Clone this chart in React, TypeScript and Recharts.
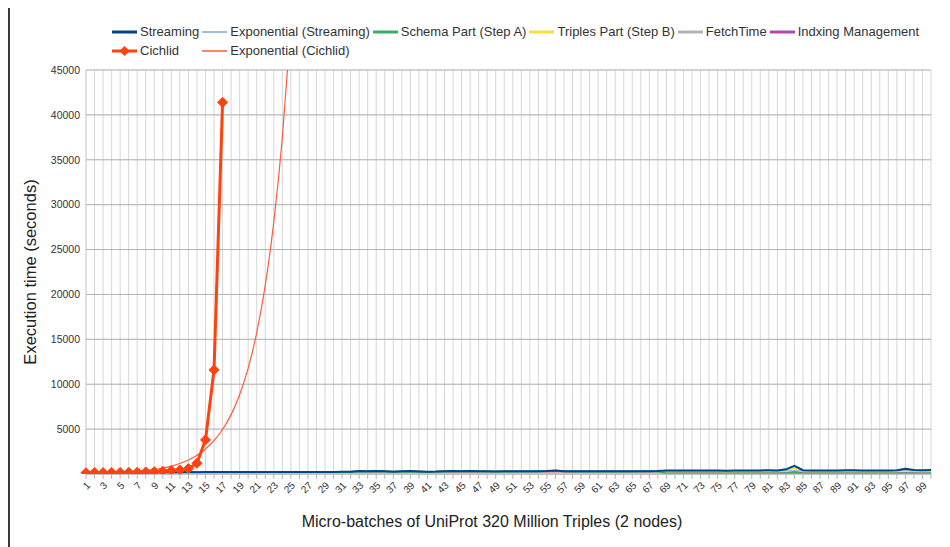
import React from 'react';
import { LineChart, Line, XAxis, YAxis, CartesianGrid } from 'recharts';

// micro-batch numbers 1..100
const categories: string[] = Array.from({ length: 100 }, (_, i) => String(i + 1));

const yTicks = [0, 5000, 10000, 15000, 20000, 25000, 30000, 35000, 40000, 45000];
const yMinorTicks = [0, 2500, 5000, 7500, 10000, 12500, 15000, 17500, 20000, 22500, 25000, 27500, 30000, 32500, 35000, 37500, 40000, 42500, 45000];

const streaming = [
    180, 190, 185, 190, 195, 190, 200, 195, 200, 205,
    200, 205, 210, 205, 210, 215, 210, 215, 220, 215,
    220, 225, 230, 220, 225, 220, 230, 225, 230, 235,
    240, 250, 330, 300, 340, 320, 260, 300, 330, 280,
    250, 270, 320, 330, 310, 330, 320, 300, 290, 300,
    300, 300, 310, 320, 330, 380, 320, 300, 300, 300,
    300, 300, 310, 300, 310, 320, 320, 330, 380, 390,
    380, 380, 390, 380, 380, 370, 380, 380, 390, 400,
    420, 380, 520, 920, 420, 380, 380, 380, 390, 420,
    410, 380, 390, 400, 380, 430, 580, 440, 420, 440,
];

const expStreaming = [
    200, 202, 204, 205, 207, 209, 210, 212, 214, 215,
    217, 219, 220, 222, 224, 226, 227, 229, 231, 233,
    234, 236, 238, 240, 242, 243, 245, 247, 249, 251,
    253, 255, 256, 258, 260, 262, 264, 266, 268, 270,
    272, 274, 276, 278, 280, 282, 284, 286, 288, 290,
    292, 294, 296, 298, 300, 302, 304, 306, 308, 310,
    312, 314, 316, 318, 320, 322, 324, 326, 328, 330,
    332, 334, 336, 338, 340, 342, 344, 346, 348, 350,
    352, 353, 355, 357, 358, 360, 361, 362, 363, 364,
    365, 366, 366, 367, 367, 368, 368, 369, 369, 370,
];

const schemaPart = [
    170, 175, 170, 175, 180, 175, 185, 180, 185, 190,
    185, 190, 195, 190, 195, 200, 195, 200, 205, 200,
    205, 210, 215, 205, 210, 205, 215, 210, 215, 220,
    225, 235, 310, 285, 320, 300, 245, 285, 310, 265,
    235, 255, 300, 310, 295, 310, 300, 285, 275, 280,
    280, 280, 290, 300, 310, 350, 300, 280, 280, 280,
    280, 280, 290, 280, 290, 300, 300, 300, 60, 50,
    45, 45, 45, 45, 45, 45, 45, 45, 45, 50,
    50, 50, 70, 120, 50, 45, 45, 45, 45, 50,
    50, 45, 45, 50, 45, 50, 60, 50, 45, 50,
];

const triplesPart = [
    15, 15, 15, 15, 15, 15, 15, 15, 15, 15,
    15, 15, 15, 15, 15, 15, 15, 15, 15, 15,
    15, 15, 15, 15, 15, 15, 15, 15, 15, 15,
    15, 15, 15, 15, 15, 15, 15, 15, 15, 15,
    15, 15, 15, 15, 15, 15, 15, 15, 15, 15,
    15, 15, 15, 15, 15, 15, 15, 15, 15, 15,
    15, 15, 15, 15, 15, 15, 15, 15, 260, 270,
    265, 265, 270, 265, 265, 260, 265, 265, 270, 280,
    290, 270, 380, 680, 300, 270, 270, 270, 275, 290,
    285, 270, 275, 280, 270, 300, 420, 300, 290, 300,
];

const fetchTime = [
    15, 15, 15, 15, 15, 15, 15, 15, 15, 15,
    15, 15, 15, 15, 15, 15, 15, 15, 15, 15,
    15, 15, 15, 15, 15, 15, 15, 15, 15, 15,
    20, 20, 20, 20, 20, 20, 20, 20, 20, 20,
    20, 20, 20, 20, 20, 20, 20, 20, 20, 20,
    20, 20, 20, 20, 20, 20, 20, 20, 20, 20,
    20, 20, 20, 20, 20, 20, 20, 20, 20, 20,
    20, 20, 20, 20, 20, 20, 20, 20, 20, 20,
    25, 25, 25, 30, 25, 25, 25, 25, 25, 25,
    25, 25, 25, 25, 25, 25, 25, 25, 25, 25,
];

const indexing = [
    55, 55, 55, 55, 55, 55, 55, 55, 55, 55,
    55, 55, 55, 55, 55, 55, 55, 55, 55, 55,
    55, 55, 55, 55, 55, 55, 55, 55, 55, 55,
    60, 60, 60, 60, 60, 60, 60, 60, 60, 60,
    60, 60, 60, 60, 60, 60, 60, 60, 60, 60,
    60, 60, 60, 60, 60, 60, 60, 60, 60, 60,
    65, 65, 65, 65, 65, 65, 65, 65, 70, 70,
    70, 70, 70, 70, 70, 70, 70, 70, 70, 75,
    75, 75, 110, 220, 100, 75, 75, 75, 75, 75,
    75, 75, 75, 75, 75, 80, 90, 80, 75, 80,
];

const cichlid = [
    150, 180, 160, 170, 180, 190, 200, 230, 260, 300,
    380, 450, 600, 1200, 3800, 11600, 41400,
];

const expCichlid = [
    50, 65, 87, 116, 155, 206, 275, 368, 491, 655,
    875, 1168, 1560, 2083, 2780, 3711, 4955, 6615, 8830, 11790,
    15740, 21010, 28050, 37450, 50000,
];

const data = categories.map((c, i) => ({
    x: c,
    streaming: streaming[i],
    expStreaming: expStreaming[i],
    schema: schemaPart[i],
    triples: triplesPart[i],
    fetch: fetchTime[i],
    indexing: indexing[i],
    cichlid: i < cichlid.length ? cichlid[i] : null,
    expCichlid: i < expCichlid.length ? expCichlid[i] : null,
}));

const FONT = '"Liberation Sans", Arial, sans-serif';

const legendItems = [
    { name: 'Streaming', color: '#004586', width: 3 },
    { name: 'Exponential (Streaming)', color: '#7ea6d3', width: 1.5 },
    { name: 'Schema Part (Step A)', color: '#3daa66', width: 3 },
    { name: 'Triples Part (Step B)', color: '#ffdc3c', width: 3 },
    { name: 'FetchTime', color: '#b3b3b3', width: 3 },
    { name: 'Indxing Management', color: '#b545b0', width: 3 },
    { name: 'Cichlid', color: '#ff420e', width: 3, diamond: true },
    { name: 'Exponential (Cichlid)', color: '#ff5c3a', width: 1.5 },
];

const Diamond = (props: any) => {
    const { cx, cy, value } = props;
    if (cx == null || cy == null || value == null) return null;
    const r = 5;
    return (
        <path
            key={`d-${cx}`}
            d={`M${cx},${cy - r}L${cx + r},${cy}L${cx},${cy + r}L${cx - r},${cy}Z`}
            fill="#ff420e"
            stroke="#ff420e"
        />
    );
};

const XTick = (props: any) => {
    const { x, y, index, payload } = props;
    if (index % 2 !== 0) return <g />;
    return (
        <g transform={`translate(${x},${y})`}>
            <text
                x={0}
                y={0}
                dy={7}
                textAnchor="end"
                transform="rotate(-45)"
                fontSize={10}
                fill="#333"
                fontFamily={FONT}
            >
                {payload.value}
            </text>
        </g>
    );
};

export default function App() {
    return (
        <div
            style={{
                position: 'relative',
                width: 942,
                height: 545,
                marginTop: -6,
                borderLeft: '2px solid #3a3a3a',
                borderTop: '2px solid #999',
                fontFamily: FONT,
                overflow: 'hidden',
            }}
        >
            {/* legend */}
            <div
                style={{
                    position: 'absolute',
                    left: 102,
                    top: 20,
                    display: 'grid',
                    gridTemplateColumns: 'repeat(6, auto)',
                    columnGap: 3,
                    rowGap: 4,
                    fontSize: 13,
                    color: '#333',
                    lineHeight: '15px',
                }}
            >
                {legendItems.map(item => (
                    <div key={item.name} style={{ display: 'flex', alignItems: 'center', whiteSpace: 'nowrap' }}>
                        <svg width={25} height={12} style={{ marginRight: 3 }}>
                            <line x1={0} y1={6} x2={25} y2={6} stroke={item.color} strokeWidth={item.width} />
                            {item.diamond && <path d="M12.5,1L17.5,6L12.5,11L7.5,6Z" fill={item.color} />}
                        </svg>
                        <span>{item.name}</span>
                    </div>
                ))}
            </div>

            <LineChart
                width={940}
                height={543}
                data={data}
                margin={{ top: 66, right: 19, bottom: 33, left: 16 }}
                style={{ position: 'absolute', left: 0, top: 0 }}
            >
                <CartesianGrid yAxisId="minor" vertical={false} stroke="#e6e6e6" strokeWidth={1} />
                <CartesianGrid horizontal={false} stroke="#d6d6d6" strokeWidth={1} />
                <CartesianGrid vertical={false} stroke="#b3b3b3" strokeWidth={1} />
                <XAxis
                    dataKey="x"
                    interval={0}
                    height={40}
                    tick={<XTick />}
                    tickSize={5}
                    tickLine={{ stroke: '#b3b3b3' }}
                    axisLine={{ stroke: '#b3b3b3' }}
                />
                <YAxis
                    domain={[0, 45000]}
                    ticks={yTicks}
                    allowDataOverflow
                    width={60}
                    axisLine={false}
                    tickLine={false}
                    tickSize={4}
                    tickMargin={2}
                    tick={{ fontSize: 10.5, fill: '#333', fontFamily: FONT }}
                    tickFormatter={(v: number) => (v === 0 ? '' : String(v))}
                />
                <YAxis yAxisId="minor" hide domain={[0, 45000]} ticks={yMinorTicks} allowDataOverflow />

                <Line dataKey="fetch" stroke="#b3b3b3" strokeWidth={2} dot={false} isAnimationActive={false} />
                <Line dataKey="indexing" stroke="#b545b0" strokeWidth={2} dot={false} isAnimationActive={false} />
                <Line dataKey="triples" stroke="#ffdc3c" strokeWidth={2} dot={false} isAnimationActive={false} />
                <Line dataKey="schema" stroke="#3daa66" strokeWidth={2} dot={false} isAnimationActive={false} />
                <Line dataKey="expStreaming" stroke="#7ea6d3" strokeWidth={1} dot={false} isAnimationActive={false} />
                <Line dataKey="streaming" stroke="#004586" strokeWidth={2} dot={false} isAnimationActive={false} />
                <Line
                    dataKey="expCichlid"
                    type="monotone"
                    stroke="#ff5c3a"
                    strokeWidth={1.2}
                    dot={false}
                    isAnimationActive={false}
                />
                <Line
                    dataKey="cichlid"
                    stroke="#ff420e"
                    strokeWidth={3}
                    dot={<Diamond />}
                    isAnimationActive={false}
                />
            </LineChart>

            <div
                style={{
                    position: 'absolute',
                    left: 20,
                    top: 268,
                    transform: 'translate(-50%, -50%) rotate(-90deg)',
                    whiteSpace: 'nowrap',
                    fontSize: 16.5,
                    color: '#222',
                }}
            >
                Execution time (seconds)
            </div>
            <div
                style={{
                    position: 'absolute',
                    left: 482,
                    top: 518,
                    transform: 'translate(-50%, -50%)',
                    whiteSpace: 'nowrap',
                    fontSize: 16,
                    color: '#222',
                }}
            >
                Micro-batches of UniProt 320 Million Triples (2 nodes)
            </div>
        </div>
    );
}
